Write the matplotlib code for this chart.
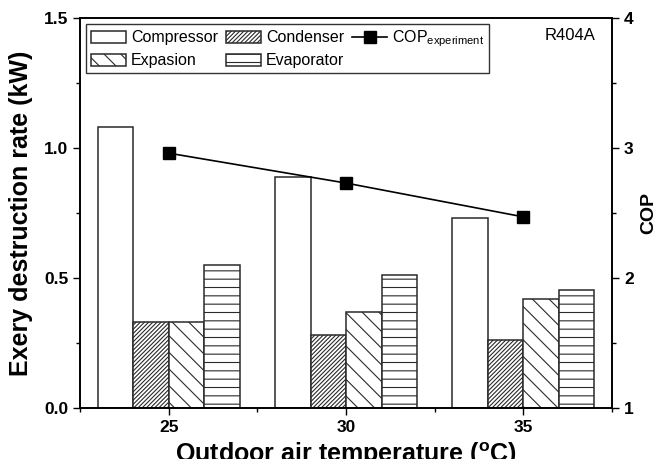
"""
Exergy destruction per component vs outdoor air temperature (R404A), with COP on a twin axis.
Writes out.png in the working directory.
"""

from __future__ import annotations

import matplotlib

matplotlib.use("Agg")
import matplotlib.pyplot as plt
import numpy as np
from matplotlib.ticker import MultipleLocator

# values
TEMPS = [25, 30, 35]
COMPRESSOR = [1.08, 0.89, 0.73]
CONDENSER = [0.33, 0.28, 0.26]
EXPANSION = [0.33, 0.37, 0.42]
EVAPORATOR = [0.55, 0.51, 0.455]
COP_EXP = [2.96, 2.73, 2.47]

REFRIGERANT = "R404A"


def _plot() -> None:
    plt.rcParams["font.family"] = ["Liberation Sans", "DejaVu Sans"]
    plt.rcParams["hatch.linewidth"] = 0.8
    plt.rcParams["mathtext.default"] = "regular"

    fig = plt.figure(figsize=(6.61, 4.59), dpi=100)
    ax = fig.add_axes([0.121, 0.111, 0.805, 0.850])
    ax2 = ax.twinx()

    t = np.array(TEMPS, dtype=float)
    edge = "#2a2a2a"
    series = [
        ("Compressor", COMPRESSOR, -1.5, ""),
        ("Condenser", CONDENSER, -0.5, "////////"),
        ("Expasion", EXPANSION, 0.5, "\\\\"),
        ("Evaporator", EVAPORATOR, 1.5, "--"),
    ]
    bars = {}
    for name, vals, off, hatch in series:
        bars[name] = ax.bar(t + off, vals, width=1.0, color="white", edgecolor=edge,
                            linewidth=1.1, hatch=hatch, label=name)

    (cop_line,) = ax2.plot(t, COP_EXP, color="black", lw=1.2, marker="s", ms=9,
                           mfc="black", mec="black", label="COP$_{experiment}$")

    ax.set_xlim(22.5, 37.5)
    ax.set_ylim(0, 1.5)
    ax2.set_ylim(1, 4)
    ax.set_xticks(TEMPS)
    ax.xaxis.set_minor_locator(MultipleLocator(2.5))
    ax.yaxis.set_major_locator(MultipleLocator(0.5))
    ax.yaxis.set_minor_locator(MultipleLocator(0.25))
    ax2.yaxis.set_major_locator(MultipleLocator(1))
    ax2.yaxis.set_minor_locator(MultipleLocator(0.5))

    for a in (ax, ax2):
        a.tick_params(which="major", direction="out", length=5, width=1.0, labelsize=12.5)
        a.tick_params(which="minor", direction="out", length=3, width=1.0)
        for s in a.spines.values():
            s.set_linewidth(1.2)
    for lbl in ax.get_xticklabels() + ax.get_yticklabels() + ax2.get_yticklabels():
        lbl.set_fontweight("bold")

    ax.set_xlabel("Outdoor air temperature ($^{o}$C)", fontsize=18, fontweight="bold", labelpad=4)
    ax.set_ylabel("Exery destruction rate (kW)", fontsize=18, fontweight="bold", labelpad=8)
    ax2.set_ylabel("COP", fontsize=14, fontweight="bold", labelpad=5)

    # legend order fills column-wise: col1 Compressor/Expasion, col2 Condenser/Evaporator, col3 COP
    handles = [bars["Compressor"], bars["Expasion"], bars["Condenser"], bars["Evaporator"], cop_line]
    labels = ["Compressor", "Expasion", "Condenser", "Evaporator", "COP$_{experiment}$"]
    leg = ax2.legend(handles, labels, ncol=3, loc="upper left", bbox_to_anchor=(0.012, 0.985),
                     fontsize=11.5, frameon=True, fancybox=False, edgecolor="black",
                     handlelength=2.2, handleheight=0.75, handletextpad=0.3,
                     columnspacing=0.5, borderpad=0.3, labelspacing=0.5, borderaxespad=0)
    leg.get_frame().set_linewidth(1.0)

    ax2.text(0.968, 0.954, REFRIGERANT, transform=ax2.transAxes, ha="right", va="center", fontsize=12)

    fig.savefig("out.png", dpi=100)
    plt.close(fig)


def main() -> None:
    _plot()
    print("Wrote out.png")


if __name__ == "__main__":
    main()
